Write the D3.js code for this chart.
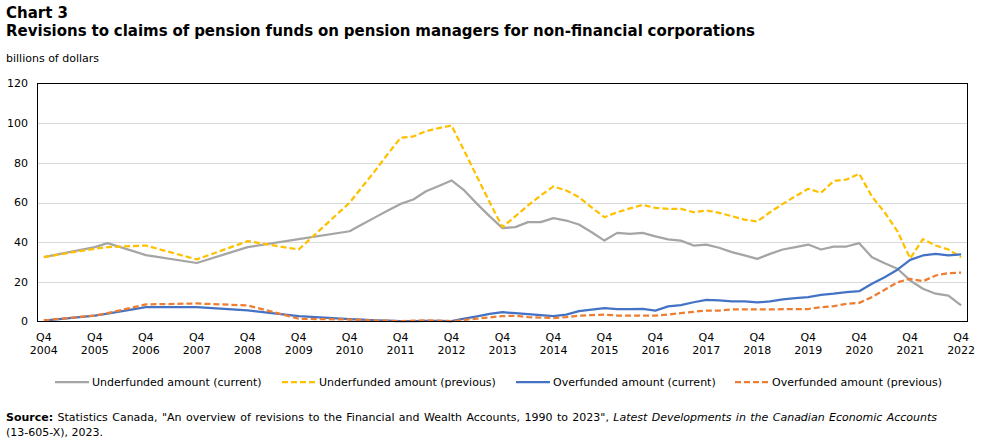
<!DOCTYPE html>
<html>
<head>
<meta charset="utf-8">
<script src="https://cdn.jsdelivr.net/npm/d3@7"></script>
<style>
  body { margin: 0; background: #fff; }
  svg { font-family: Verdana, "DejaVu Sans", sans-serif; }
  .grid line { stroke: #d9d9d9; stroke-width: 1; }
  .tick-label { font-size: 11px; fill: #000; }
</style>
</head>
<body>
<div class="chart"></div>
<script>
// quarters that carry a data point (annual early on, quarterly from 2010 Q4)
const periods = [
  "2004Q4","2005Q4","2006Q1","2006Q4","2007Q4","2008Q4","2009Q4",
  "2010Q4","2011Q1","2011Q2","2011Q3","2011Q4","2012Q1","2012Q2","2012Q3","2012Q4",
  "2013Q1","2013Q2","2013Q3","2013Q4","2014Q1","2014Q2","2014Q3","2014Q4",
  "2015Q1","2015Q2","2015Q3","2015Q4","2016Q1","2016Q2","2016Q3","2016Q4",
  "2017Q1","2017Q2","2017Q3","2017Q4","2018Q1","2018Q2","2018Q3","2018Q4",
  "2019Q1","2019Q2","2019Q3","2019Q4","2020Q1","2020Q2","2020Q3","2020Q4",
  "2021Q1","2021Q2","2021Q3","2021Q4","2022Q1","2022Q2","2022Q3","2022Q4"
];

const underCurrent = [32.5,37.5,39.5,33.5,29.5,37.5,41.5,
  45.5,49.0,52.5,56.0,59.3,61.5,65.7,68.3,71.1,66.1,59.3,53.0,47.1,47.6,50.1,50.1,52.1,
  50.9,48.9,45.0,40.8,44.7,44.2,44.7,42.9,41.4,40.8,38.3,38.8,37.2,35.0,33.3,31.6,
  34.1,36.3,37.5,38.8,36.3,37.8,37.8,39.5,32.4,29.4,26.6,20.7,16.5,14.0,13.1,8.1];

const underPrevious = [32.5,36.7,37.5,38.3,31.3,40.5,36.3,
  59.9,68.0,76.0,84.5,92.6,93.3,96.0,97.5,98.8,86.0,73.0,60.0,47.6,53.0,58.5,63.5,68.1,
  66.1,62.7,57.5,52.6,55.1,57.0,58.8,57.3,56.8,56.8,55.1,56.0,54.8,53.1,51.4,50.4,
  55.1,59.3,63.2,66.9,64.9,70.8,71.6,74.5,63.0,55.0,45.5,31.8,41.5,38.3,36.3,32.4];

const overCurrent = [0.5,3.0,4.0,7.2,7.2,5.6,2.7,
  1.2,0.9,0.6,0.4,0.2,0.2,0.3,0.3,0.2,1.5,2.6,3.8,4.7,4.2,3.7,3.2,2.7,
  3.5,5.2,6.0,6.7,6.2,6.2,6.4,5.5,7.6,8.3,9.7,10.9,10.6,10.1,10.1,9.6,
  10.1,11.1,11.8,12.3,13.4,14.0,14.8,15.3,19.0,22.3,26.1,31.1,33.3,34.1,33.3,33.8];

const overPrevious = [0.6,3.0,4.2,8.6,9.1,8.1,1.4,
  1.0,0.8,0.5,0.4,0.2,0.4,0.6,0.4,0.2,0.8,1.4,2.1,2.7,2.9,2.2,2.0,1.7,
  2.2,3.0,3.2,3.5,3.0,3.0,3.0,3.0,3.5,4.2,4.9,5.5,5.5,6.1,6.1,6.1,
  6.1,6.2,6.2,6.3,7.2,7.7,8.9,9.4,12.3,16.0,19.8,21.5,20.3,23.2,24.4,24.7];

const tickYears = ["2004","2005","2006","2007","2008","2009","2010","2011","2012",
  "2013","2014","2015","2016","2017","2018","2019","2020","2021","2022"];
const yTicks = [0,20,40,60,80,100,120];

const seriesNames = ["Underfunded amount (current)","Underfunded amount (previous)",
  "Overfunded amount (current)","Overfunded amount (previous)"];
const seriesColors = ["#a5a5a5","#ffc000","#4472c4","#ed7d31"];
const seriesDashed = [false,true,false,true];
const seriesValues = [underCurrent, underPrevious, overCurrent, overPrevious];

// quarter index counted from 2004 Q4
const qIndex = p => (+p.slice(0,4) - 2004) * 4 + (+p.slice(5) - 4);

// stretch a text line to a target width through word spacing
function fitWords(sel, target){
  const w = sel.node().getComputedTextLength();
  const n = sel.text().split(" ").length - 1;
  sel.style("word-spacing", ((target - w) / n) + "px");
}

function display(){
  const W = 983, H = 442;
  const plot = {left: 37.5, right: 967.5, top: 83.5, bottom: 321.5};
  const nCat = 73, band = (plot.right - plot.left) / nCat;

  const svg = d3.select(".chart").append("svg")
      .attr("width", W).attr("height", H);

  const x = d3.scaleLinear().domain([0, 72])
      .range([plot.left + band / 2, plot.right - band / 2]);
  const y = d3.scaleLinear().domain([0, 120]).range([plot.bottom, plot.top]);

  // titles
  svg.append("text").attr("x", 6).attr("y", 18)
    .style("font-size", "15px").style("font-weight", "bold").text("Chart 3");
  const title = svg.append("text").attr("x", 6).attr("y", 36)
    .style("font-size", "15px").style("font-weight", "bold")
    .text("Revisions to claims of pension funds on pension managers for non-financial corporations");
  fitWords(title, 749);

  svg.append("text").attr("x", 6).attr("y", 62)
    .style("font-size", "11px").text("billions of dollars");

  // grid
  svg.append("g").attr("class", "grid")
    .selectAll("line").data(yTicks.filter(d => d > 0 && d < 120)).enter().append("line")
    .attr("x1", plot.left).attr("x2", plot.right)
    .attr("y1", d => Math.round(y(d)) + 0.5).attr("y2", d => Math.round(y(d)) + 0.5);

  // y tick labels
  svg.append("g").selectAll("text").data(yTicks).enter().append("text")
    .attr("class", "tick-label")
    .attr("x", 28).attr("y", d => y(d)).attr("dy", "0.35em")
    .attr("text-anchor", "end").text(d => d);

  // x tick labels
  const xl = svg.append("g").selectAll("text").data(tickYears).enter().append("text")
    .attr("class", "tick-label").attr("text-anchor", "middle");
  xl.append("tspan").attr("x", (d, i) => x(i * 4)).attr("y", 341).text("Q4");
  xl.append("tspan").attr("x", (d, i) => x(i * 4)).attr("y", 354).text(d => d);

  // lines
  const line = d3.line().x(d => x(d.q)).y(d => y(d.v));
  seriesValues.forEach((vals, s) => {
    const pts = periods.map((p, i) => ({q: qIndex(p), v: vals[i]}));
    svg.append("path").datum(pts)
      .attr("d", line)
      .attr("fill", "none")
      .attr("stroke", seriesColors[s])
      .attr("stroke-width", 2.25)
      .attr("stroke-linejoin", "round")
      .attr("stroke-dasharray", seriesDashed[s] ? "6,3" : null);
  });

  // frame
  svg.append("rect")
    .attr("x", plot.left).attr("y", plot.top)
    .attr("width", plot.right - plot.left).attr("height", plot.bottom - plot.top)
    .attr("fill", "none").attr("stroke", "#000").attr("stroke-width", 1);

  // legend
  const legX = [55, 282, 516, 735];
  const leg = svg.append("g").selectAll("g").data(seriesNames).enter().append("g")
    .attr("transform", (d, i) => "translate(" + legX[i] + ",382)");
  leg.append("line").attr("x1", 0).attr("x2", 34).attr("y1", 0).attr("y2", 0)
    .attr("stroke", (d, i) => seriesColors[i]).attr("stroke-width", 2.25)
    .attr("stroke-dasharray", (d, i) => seriesDashed[i] ? "6,3" : null);
  leg.append("text").attr("x", 37).attr("y", 0).attr("dy", "0.35em")
    .style("font-size", "11px").text(d => d);

  // source
  const src = svg.append("text").attr("x", 6).attr("y", 421).style("font-size", "11px");
  src.append("tspan").style("font-weight", "bold").text("Source:");
  src.append("tspan").text(" Statistics Canada, \"An overview of revisions to the Financial and Wealth Accounts, 1990 to 2023\", ");
  src.append("tspan").style("font-style", "italic").text("Latest Developments in the Canadian Economic Accounts");
  fitWords(src, 931);
  svg.append("text").attr("x", 6).attr("y", 436).style("font-size", "11px")
    .text("(13-605-X), 2023.");
}

display();
</script>
</body>
</html>
